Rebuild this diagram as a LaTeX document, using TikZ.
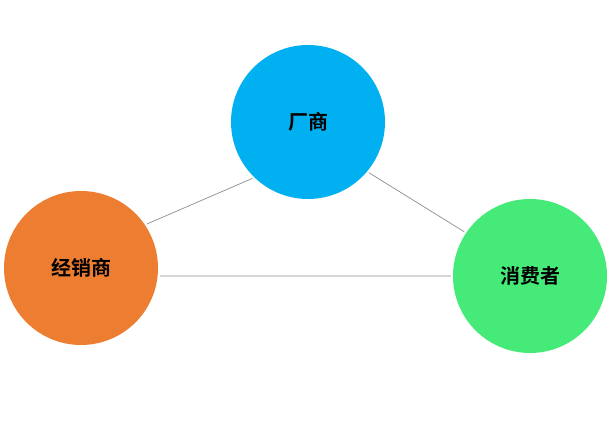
\documentclass[tikz,border=0pt]{standalone}
\usepackage{fontspec}
\newfontfamily\cjk{Noto Sans CJK SC}[BoldFont=* Bold]
\begin{document}
\begin{tikzpicture}[x=1pt,y=1pt,
  circ/.style={circle,minimum size=154pt,inner sep=0pt,font=\cjk\bfseries\fontsize{20}{24}\selectfont},
  link/.style={draw=gray!90,line width=0.7pt,shorten <=2pt,shorten >=2pt}]
\useasboundingbox (0,0) rectangle (615,430);
\node[circ,fill={rgb,255:red,0;green,176;blue,240}] (m) at (308,308) {厂商};
\node[circ,fill={rgb,255:red,237;green,125;blue,49}] (d) at (81,162) {经销商};
\node[circ,fill={rgb,255:red,70;green,234;blue,120}] (c) at (530,154) {消费者};
\draw[link] (m.-134) -- (d.34);
\draw[link] (m.-40) -- (c.146);
\draw[link] (d.-6) -- (c.180);
\end{tikzpicture}
\end{document}
